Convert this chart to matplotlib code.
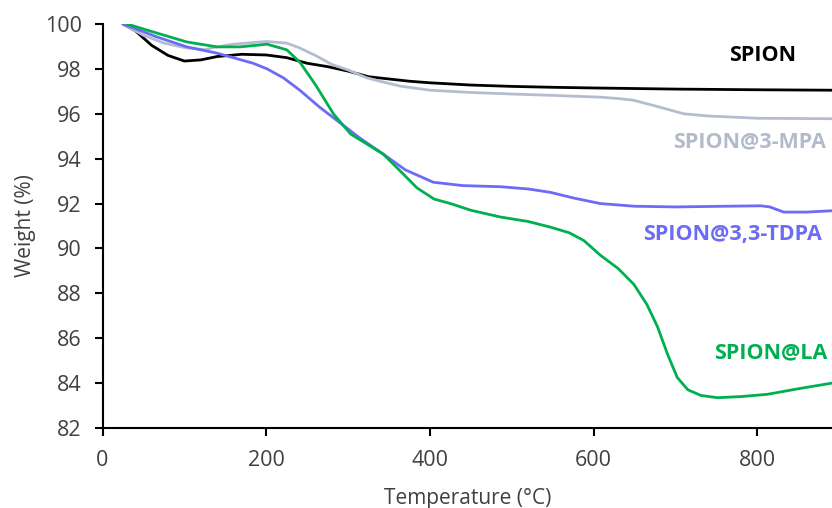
import matplotlib
matplotlib.use('Agg')
import matplotlib.pyplot as plt

# temperatures (°C) and weights (%)
t_spion = [25, 40, 60, 80, 100, 120, 140, 170, 200, 225, 250, 275, 300, 325, 350, 375, 400,
           450, 500, 550, 600, 700, 800, 891]
w_spion = [100, 99.7, 99.05, 98.6, 98.35, 98.4, 98.55, 98.65, 98.62, 98.5, 98.25, 98.1, 97.9,
           97.65, 97.55, 97.45, 97.38, 97.28, 97.22, 97.18, 97.15, 97.1, 97.07, 97.05]

t_mpa = [25, 50, 75, 100, 125, 135, 160, 200, 225, 241, 260, 280, 300, 323, 350, 364, 400,
         450, 500, 550, 608, 630, 649, 675, 710, 740, 771, 800, 891]
w_mpa = [100, 99.5, 99.15, 98.95, 98.85, 98.95, 99.1, 99.22, 99.15, 98.93, 98.6, 98.2, 97.95,
         97.6, 97.35, 97.23, 97.05, 96.95, 96.88, 96.82, 96.74, 96.68, 96.6, 96.35, 96.0,
         95.9, 95.85, 95.8, 95.78]

t_tdpa = [25, 66, 103, 140, 184, 201, 221, 241, 265, 290, 315, 343, 370, 404, 440, 486, 520,
          547, 575, 608, 650, 700, 760, 804, 815, 832, 860, 891]
w_tdpa = [100, 99.43, 98.98, 98.7, 98.25, 98.0, 97.6, 97.05, 96.3, 95.6, 94.9, 94.2, 93.5,
          92.95, 92.8, 92.75, 92.65, 92.5, 92.25, 92.0, 91.88, 91.85, 91.88, 91.9, 91.85,
          91.62, 91.62, 91.68]

t_la = [30, 66, 103, 140, 168, 201, 225, 241, 260, 282, 303, 323, 343, 365, 384, 405, 425,
        450, 486, 520, 547, 570, 588, 608, 630, 649, 665, 678, 690, 702, 715, 731, 751, 780,
        812, 850, 891]
w_la = [100, 99.6, 99.2, 98.98, 98.98, 99.1, 98.85, 98.3, 97.3, 96.0, 95.1, 94.65, 94.2, 93.4,
        92.7, 92.2, 92.0, 91.7, 91.4, 91.2, 90.95, 90.7, 90.35, 89.7, 89.1, 88.4, 87.5, 86.5,
        85.3, 84.25, 83.7, 83.45, 83.35, 83.4, 83.5, 83.75, 84.0]

names = ['SPION', 'SPION@3-MPA', 'SPION@3,3-TDPA', 'SPION@LA']
line_colors = ['#000000', '#b4bdcf', '#6b6bf5', '#00b050']
label_colors = ['#000000', '#b3bbca', '#6b6bf5', '#00b050']
label_pos = [(806, 98.6), (697, 94.75), (660, 90.6), (747, 85.35)]
label_ha = ['center', 'left', 'left', 'left']

plt.rcParams['font.family'] = ['Open Sans', 'DejaVu Sans']

fig = plt.figure(figsize=(8.32, 5.08), dpi=100)
ax = fig.add_axes([102.5 / 832, 80 / 508, 1 - 102.5 / 832, 404 / 508])

series = [(t_spion, w_spion), (t_mpa, w_mpa), (t_tdpa, w_tdpa), (t_la, w_la)]
order = [1, 0, 2, 3]
for i in order:
    t, w = series[i]
    ax.plot(t, w, color=line_colors[i], lw=2.0, solid_capstyle='round', zorder=2 + i)

for i, name in enumerate(names):
    x, y = label_pos[i]
    ax.text(x, y, name, color=label_colors[i], fontsize=15.5, fontweight='bold',
            ha=label_ha[i], va='center')

ax.set_xlim(0, 891)
ax.set_ylim(82, 100)
ax.set_xticks([0, 200, 400, 600, 800])
ax.set_yticks(range(82, 101, 2))
for s in ['top', 'right']:
    ax.spines[s].set_visible(False)
for s in ['left', 'bottom']:
    ax.spines[s].set_linewidth(1.5)
ax.tick_params(direction='out', length=6, width=1.5, labelsize=15.5, labelcolor='#404040')
ax.tick_params(axis='y', pad=9)
ax.tick_params(axis='x', pad=10)
ax.set_xlabel('Temperature (°C)', fontsize=15, color='#404040', labelpad=12)
ax.set_ylabel('Weight (%)', fontsize=15, color='#404040', labelpad=6)

fig.savefig('out.png', dpi=100)
